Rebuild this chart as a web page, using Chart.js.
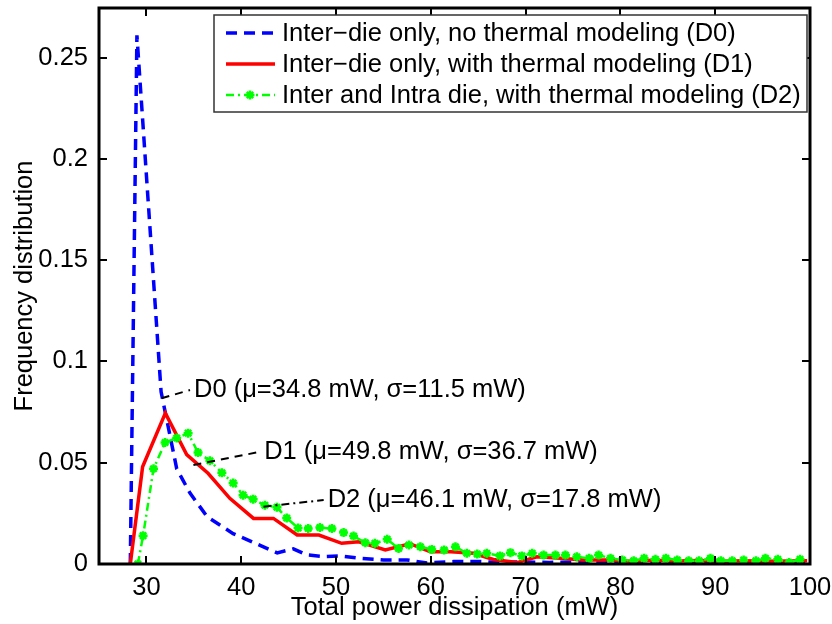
<!DOCTYPE html>
<html>
<head>
<meta charset="utf-8">
<script src="https://cdn.jsdelivr.net/npm/chart.js@4.4.0/dist/chart.umd.min.js"></script>
<style>
  html, body { margin: 0; padding: 0; background: #fff; }
  #wrap { width: 832px; height: 624px; }
</style>
</head>
<body>
<div id="wrap"><canvas id="powerChart"></canvas></div>
<script>
// D0: inter-die only, no thermal modeling
const d0Power = [28.3, 29.0, 31.55, 33.2, 34.6, 36.4, 39.15, 41.6, 43.8, 45.5, 46.9, 48.7, 50.5, 52.6, 55.0, 57.5, 59.6, 62.4, 65.2, 67.5, 70.0, 72.5, 75.0, 77.5, 80.0, 82.5, 85.0, 87.5, 90.0, 92.5, 95.0, 97.5, 100.0];
const d0Freq  = [0, 0.261, 0.085, 0.047, 0.035, 0.0234, 0.0150, 0.0100, 0.0055, 0.0075, 0.0045, 0.0037, 0.0040, 0.0028, 0.0020, 0.0020, 0.0005, 0.0012, 0.0012, 0.0008, 0.0010, 0.0008, 0.0010, 0.0007, 0.0009, 0.0007, 0.0008, 0.0006, 0.0008, 0.0006, 0.0007, 0.0005, 0.0006];

// D1: inter-die only, with thermal modeling
const d1Power = [28.3, 29.6, 32.0, 34.25, 36.5, 38.8, 41.3, 43.4, 45.9, 48.2, 50.6, 52.4, 55.2, 57.8, 59.95, 62.1, 64.5, 66.6, 69.1, 71.2, 73.7, 76.1, 78.6, 81.1, 83.5, 85.9, 88.3, 90.7, 93.1, 95.5, 97.9, 99.7];
const d1Freq  = [0, 0.048, 0.0745, 0.054, 0.0448, 0.0324, 0.0225, 0.0225, 0.0143, 0.0143, 0.0102, 0.0110, 0.0069, 0.0100, 0.0060, 0.0060, 0.0053, 0.0022, 0.0007, 0.0036, 0.0028, 0.0020, 0.0020, 0.0014, 0.0018, 0.0015, 0.0017, 0.0013, 0.0016, 0.0014, 0.0015, 0.0016];

// D2: inter and intra die, with thermal modeling
const d2Power = [29.1, 29.65, 30.75, 31.97, 33.2, 34.4, 35.45, 36.7, 37.96, 39.15, 40.2, 41.26, 42.5, 43.77, 44.8, 46.0, 47.07, 48.3, 49.57, 50.8, 51.85, 53.1, 54.1, 55.4, 56.6, 57.7, 58.9, 60.1, 61.4, 62.6, 63.8, 64.9, 65.9, 67.3, 68.4, 69.6, 70.7, 71.9, 73.15, 74.2, 75.4, 76.7, 77.7, 78.96, 80.2, 81.4, 82.5, 83.7, 84.8, 86.0, 87.2, 88.3, 89.5, 90.6, 91.8, 93.0, 94.3, 95.3, 96.6, 97.8, 98.95];
const d2Freq  = [0, 0.014, 0.047, 0.060, 0.0622, 0.0646, 0.055, 0.051, 0.045, 0.040, 0.034, 0.032, 0.029, 0.028, 0.0227, 0.0178, 0.0175, 0.0180, 0.0175, 0.0155, 0.0138, 0.0105, 0.0102, 0.0122, 0.0077, 0.0094, 0.0085, 0.0072, 0.0069, 0.0085, 0.0053, 0.0049, 0.0053, 0.0040, 0.0056, 0.0040, 0.0053, 0.0044, 0.0044, 0.0044, 0.0036, 0.0028, 0.0044, 0.0028, 0.0020, 0.0016, 0.0028, 0.0023, 0.0028, 0.0020, 0.0016, 0.0016, 0.0028, 0.0016, 0.0016, 0.0020, 0.0016, 0.0028, 0.0023, 0.0007, 0.0023];

const seriesLabels = [
  'Inter\u2212die only, no thermal modeling (D0)',
  'Inter\u2212die only, with thermal modeling (D1)',
  'Inter and Intra die, with thermal modeling (D2)'
];
const statLabels = [
  'D0 (\u03bc=34.8 mW, \u03c3=11.5 mW)',
  'D1 (\u03bc=49.8 mW, \u03c3=36.7 mW)',
  'D2 (\u03bc=46.1 mW, \u03c3=17.8 mW)'
];
const xTicks = [30, 40, 50, 60, 70, 80, 90, 100];
const yTicks = [0, 0.05, 0.1, 0.15, 0.2, 0.25];

const FONT = '"Liberation Sans", Arial, Helvetica, sans-serif';
const FONT_SIZE = 25.5;

function toPoints(xs, ys) {
  return xs.map((x, i) => ({ x: x, y: ys[i] }));
}

// leader lines: from a point near the curve to the start of the text
const callouts = [
  { text: statLabels[0], from: [31.6, 0.0818], to: [34.6, 0.0859], dash: [8, 6] },
  { text: statLabels[1], from: [34.96, 0.0489], to: [42.0, 0.0554], dash: [8, 6] },
  { text: statLabels[2], from: [42.35, 0.0283], to: [48.7, 0.0316], dash: [8, 4, 2, 4] }
];

// box, inward ticks, legend and callouts in MATLAB style
const matlabFrame = {
  id: 'matlabFrame',
  afterDatasetsDraw(chart) {
    const { ctx, scales: { x, y } } = chart;
    ctx.save();
    ctx.font = FONT_SIZE + 'px ' + FONT;
    ctx.fillStyle = '#000';
    ctx.textBaseline = 'middle';
    callouts.forEach(c => {
      const x1 = x.getPixelForValue(c.from[0]), y1 = y.getPixelForValue(c.from[1]);
      const x2 = x.getPixelForValue(c.to[0]), y2 = y.getPixelForValue(c.to[1]);
      ctx.strokeStyle = '#000';
      ctx.lineWidth = 2;
      ctx.setLineDash(c.dash);
      ctx.beginPath();
      ctx.moveTo(x1, y1);
      ctx.lineTo(x2, y2);
      ctx.stroke();
      ctx.fillText(c.text, x2 + 4, y2);
    });
    ctx.restore();
  },
  afterDraw(chart) {
    const { ctx, chartArea: a, scales: { x, y } } = chart;
    ctx.save();
    ctx.strokeStyle = '#000';
    ctx.lineWidth = 2;
    ctx.beginPath();
    xTicks.forEach(v => {
      const px = Math.round(x.getPixelForValue(v));
      ctx.moveTo(px, a.bottom); ctx.lineTo(px, a.bottom - 8);
      ctx.moveTo(px, a.top); ctx.lineTo(px, a.top + 8);
    });
    yTicks.forEach(v => {
      const py = Math.round(y.getPixelForValue(v));
      ctx.moveTo(a.left, py); ctx.lineTo(a.left + 8, py);
      ctx.moveTo(a.right, py); ctx.lineTo(a.right - 8, py);
    });
    ctx.stroke();
    ctx.lineWidth = 3;
    ctx.strokeRect(a.left, a.top, a.right - a.left, a.bottom - a.top);

    // legend
    const lx = 214, ly = 15, lw = 593, lh = 97;
    ctx.fillStyle = '#fff';
    ctx.fillRect(lx, ly, lw, lh);
    ctx.strokeStyle = '#333';
    ctx.lineWidth = 1.5;
    ctx.strokeRect(lx, ly, lw, lh);
    ctx.font = FONT_SIZE + 'px ' + FONT;
    ctx.textBaseline = 'middle';
    chart.data.datasets.forEach((ds, i) => {
      const ry = ly + 18 + i * 31;
      ctx.strokeStyle = ds.borderColor;
      ctx.lineWidth = ds.borderWidth;
      ctx.setLineDash(ds.borderDash || []);
      ctx.beginPath();
      ctx.moveTo(226, ry);
      ctx.lineTo(275, ry);
      ctx.stroke();
      ctx.setLineDash([]);
      if (ds.pointRadius > 0) {
        ctx.fillStyle = ds.pointBorderColor;
        Chart.helpers.drawPoint(ctx, {
          pointStyle: ds.pointStyle, radius: ds.pointRadius, borderWidth: ds.pointBorderWidth
        }, 250, ry);
      }
      ctx.fillStyle = '#000';
      ctx.fillText(ds.label, 282, ry + 1);
    });
    ctx.restore();
  }
};

new Chart(document.getElementById('powerChart'), {
  type: 'scatter',
  data: {
    datasets: [
      {
        label: seriesLabels[0],
        data: toPoints(d0Power, d0Freq),
        showLine: true,
        borderColor: '#0000ff',
        borderWidth: 3.5,
        borderDash: [11, 7],
        pointRadius: 0,
        order: 2
      },
      {
        label: seriesLabels[1],
        data: toPoints(d1Power, d1Freq),
        showLine: true,
        borderColor: '#ff0000',
        borderWidth: 3.5,
        pointRadius: 0,
        order: 1
      },
      {
        label: seriesLabels[2],
        data: toPoints(d2Power, d2Freq),
        showLine: true,
        borderColor: '#00ff00',
        backgroundColor: '#00ff00',
        borderWidth: 2.5,
        borderDash: [8, 4, 2, 4],
        pointStyle: 'star',
        pointRadius: 4.5,
        pointBorderWidth: 2.5,
        pointBorderColor: '#00ff00',
        order: 0
      }
    ]
  },
  options: {
    responsive: true,
    maintainAspectRatio: false,
    animation: false,
    layout: { padding: { top: 8, right: 22, left: 0, bottom: 0 } },
    plugins: {
      legend: { display: false },
      tooltip: { enabled: false }
    },
    scales: {
      x: {
        type: 'linear',
        min: 25,
        max: 100,
        afterBuildTicks: s => { s.ticks = xTicks.map(v => ({ value: v })); },
        afterFit: s => { s.height = 60; s.paddingLeft = 0; s.paddingRight = 0; },
        grid: { display: false, drawTicks: false },
        border: { display: false },
        ticks: { color: '#000', padding: 9, font: { family: FONT, size: FONT_SIZE } },
        title: {
          display: true,
          text: 'Total power dissipation (mW)',
          color: '#000',
          padding: { top: 0, bottom: 1 },
          font: { family: FONT, size: FONT_SIZE }
        }
      },
      y: {
        min: 0,
        max: 0.2745,
        afterBuildTicks: s => { s.ticks = yTicks.map(v => ({ value: v })); },
        afterFit: s => { s.width = 99; s.paddingTop = 0; s.paddingBottom = 0; },
        grid: { display: false, drawTicks: false },
        border: { display: false },
        ticks: {
          color: '#000',
          padding: 11,
          font: { family: FONT, size: FONT_SIZE },
          callback: v => String(v)
        },
        title: {
          display: true,
          text: 'Frequency distribution',
          color: '#000',
          padding: { top: 10, bottom: 0 },
          font: { family: FONT, size: FONT_SIZE }
        }
      }
    }
  },
  plugins: [matlabFrame]
});
</script>
</body>
</html>
